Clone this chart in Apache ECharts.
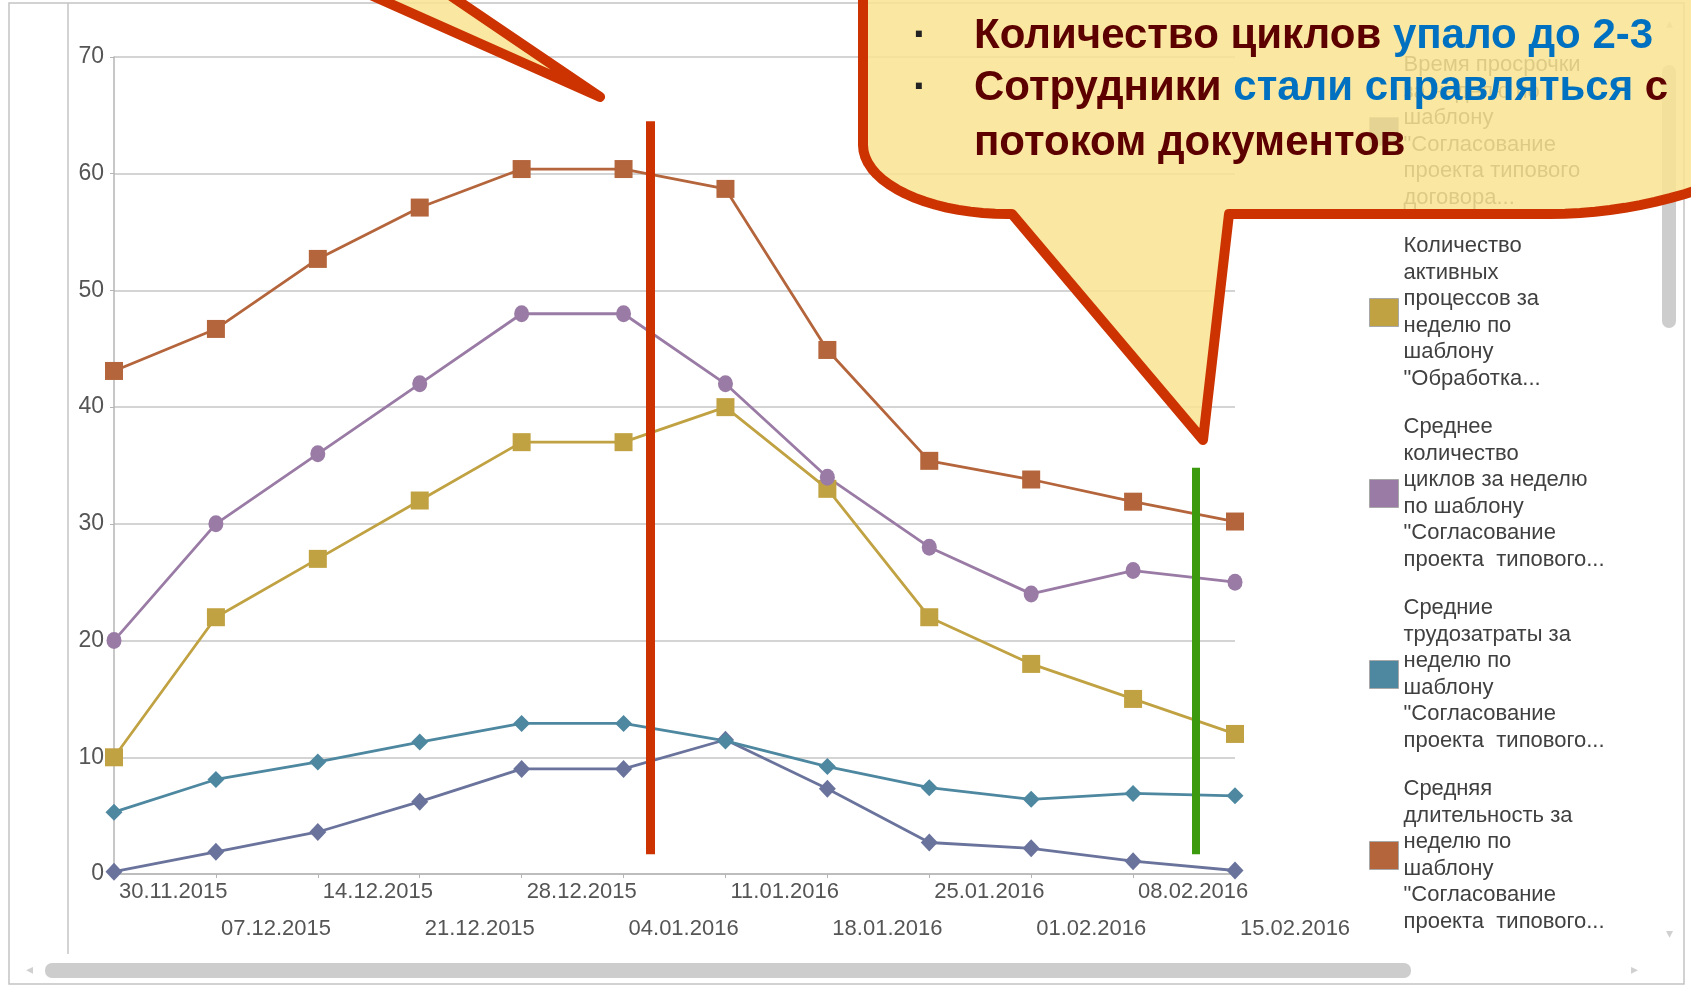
<!DOCTYPE html>
<html>
<head>
<meta charset="utf-8">
<script src="https://cdn.jsdelivr.net/npm/echarts@6/dist/echarts.min.js"></script>
<style>
  html, body { margin: 0; padding: 0; background: #fff; }
  #chart { width: 1691px; height: 987px; }
</style>
</head>
<body>
<div id="chart"></div>
<script>
// даты (недели)
const dates = ['30.11.2015', '07.12.2015', '14.12.2015', '21.12.2015', '28.12.2015', '04.01.2016',
    '11.01.2016', '18.01.2016', '25.01.2016', '01.02.2016', '08.02.2016', '15.02.2016'];

// значения серий
const overdue = [0.2, 1.9, 3.6, 6.2, 9.0, 9.0, 11.5, 7.3, 2.7, 2.2, 1.1, 0.3];
const activeCount = [10, 22, 27, 32, 37, 37, 40, 33, 22, 18, 15, 12];
const cycles = [20, 30, 36, 42, 48, 48, 42, 34, 28, 24, 26, 25];
const laborCost = [5.3, 8.1, 9.6, 11.3, 12.9, 12.9, 11.4, 9.2, 7.4, 6.4, 6.9, 6.7];
const duration = [43.1, 46.7, 52.7, 57.1, 60.4, 60.4, 58.7, 44.9, 35.4, 33.8, 31.9, 30.2];

// подписи легенды
const seriesNames = ['Время просрочки', 'Количество активных процессов', 'Среднее количество циклов',
    'Средние трудозатраты', 'Средняя длительность'];
const legendLabels = [
    'Время просрочки\nза неделю по\nшаблону\n"Согласование\nпроекта типового\nдоговора...',
    'Количество\nактивных\nпроцессов за\nнеделю по\nшаблону\n"Обработка...',
    'Среднее\nколичество\nциклов за неделю\nпо шаблону\n"Согласование\nпроекта  типового...',
    'Средние\nтрудозатраты за\nнеделю по\nшаблону\n"Согласование\nпроекта  типового...',
    'Средняя\nдлительность за\nнеделю по\nшаблону\n"Согласование\nпроекта  типового...'
];
const colors = ['#6a739c', '#c1a242', '#9a7ba5', '#4e88a0', '#b4653c'];

// отметки (вертикальные линии) на скрытой оси x
const redMark = { x: 5.26, from: 64.5, to: 1.7 };
const greenMark = { x: 10.61, from: 34.8, to: 1.7 };

const FONT = '"Liberation Sans", Arial, sans-serif';

// точки эллиптической дуги
function arc(cx, cy, rx, ry, a0, a1, n) {
    const pts = [];
    for (let i = 0; i <= n; i++) {
        const t = a0 + (a1 - a0) * i / n;
        pts.push([cx + rx * Math.cos(t), cy + ry * Math.sin(t)]);
    }
    return pts;
}

// правый нижний угол выноски — пологий изгиб
const rightCorner = [];
for (let x = 1550; x <= 1760; x += 15) {
    rightCorner.push([x, 214 - 0.0011 * (x - 1550) * (x - 1550)]);
}

const bubblePoints = [[863, -40], [863, 145]]
    .concat(arc(1008, 145, 145, 69, Math.PI, Math.PI / 2, 18))
    .concat([[1012, 214], [1203, 440], [1229, 214]])
    .concat(rightCorner)
    .concat([[1760, -40]]);

const fillYellow = 'rgba(249, 228, 146, 0.85)';
const borderRed = '#cc3300';

const chart = echarts.init(document.getElementById('chart'));

function lineSeries(name, data, color, symbol, size) {
    return {
        name: name,
        type: 'line',
        data: data,
        symbol: symbol,
        symbolSize: size,
        lineStyle: { color: color, width: 2.8 },
        itemStyle: { color: color },
        emphasis: { disabled: true }
    };
}

function textLine(text, y, rich) {
    return {
        type: 'text', z: 101, silent: true,
        style: {
            text: text, x: 974, y: y, verticalAlign: 'middle',
            fill: '#5c0000', font: 'bold 42px ' + FONT,
            rich: rich
        }
    };
}

const callRich = {
    r: { fill: '#5c0000', fontSize: 42, fontWeight: 'bold', fontFamily: FONT },
    b: { fill: '#0070c0', fontSize: 42, fontWeight: 'bold', fontFamily: FONT }
};

chart.setOption({
    animation: false,
    backgroundColor: '#fff',
    color: colors,
    textStyle: { fontFamily: FONT },
    grid: { left: 114, right: 456, top: 57, bottom: 113 },
    legend: {
        orient: 'vertical',
        left: 1369,
        top: 52,
        padding: 0,
        itemWidth: 29,
        itemHeight: 28,
        itemGap: 22,
        icon: 'rect',
        data: seriesNames,
        formatter: name => legendLabels[seriesNames.indexOf(name)],
        itemStyle: { borderColor: '#a8a8a8', borderWidth: 1 },
        textStyle: { fontSize: 22, lineHeight: 26.5, color: '#404040', fontFamily: FONT }
    },
    xAxis: [{
        type: 'category',
        data: dates,
        boundaryGap: false,
        axisLine: { lineStyle: { color: '#b5b5b5', width: 1.5 } },
        axisTick: { show: true, length: 4, lineStyle: { color: '#b5b5b5' } },
        axisLabel: {
            interval: 0,
            align: 'left',
            margin: -1,
            padding: [0, 0, 0, 5],
            fontSize: 22,
            lineHeight: 37,
            color: '#555',
            formatter: (v, i) => i % 2 ? '\n' + v : v
        }
    }, {
        type: 'value',
        min: 0,
        max: 11,
        show: false
    }],
    yAxis: {
        type: 'value',
        min: 0,
        max: 70,
        interval: 10,
        axisLine: { show: true, lineStyle: { color: '#b5b5b5', width: 1.5 } },
        axisTick: { show: true, length: 4, lineStyle: { color: '#b5b5b5' } },
        axisLabel: { fontSize: 23, color: '#555', margin: 10 },
        splitLine: { lineStyle: { color: '#c6c6c6', width: 1.5 } }
    },
    series: [
        lineSeries(seriesNames[0], overdue, colors[0], 'diamond', [17, 18]),
        lineSeries(seriesNames[1], activeCount, colors[1], 'rect', 18),
        lineSeries(seriesNames[2], cycles, colors[2], 'circle', [15, 17]),
        lineSeries(seriesNames[3], laborCost, colors[3], 'diamond', [17, 17]),
        lineSeries(seriesNames[4], duration, colors[4], 'rect', 18),
        {
            type: 'line',
            xAxisIndex: 1,
            data: [],
            z: 6,
            markLine: {
                silent: true,
                symbol: 'none',
                label: { show: false },
                data: [
                    [{ coord: [redMark.x, redMark.from], lineStyle: { color: '#cc3300', width: 9, type: 'solid' } },
                     { coord: [redMark.x, redMark.to] }],
                    [{ coord: [greenMark.x, greenMark.from], lineStyle: { color: '#3c9a0f', width: 8, type: 'solid' } },
                     { coord: [greenMark.x, greenMark.to] }]
                ]
            }
        }
    ],
    graphic: { elements: [
        // рамки окна
        { type: 'rect', z: 0, silent: true, shape: { x: 9, y: 3, width: 1675, height: 981 },
          style: { fill: null, stroke: '#c4c4c4', lineWidth: 1.5 } },
        { type: 'line', z: 0, silent: true, shape: { x1: 68, y1: 3, x2: 68, y2: 954 },
          style: { stroke: '#c4c4c4', lineWidth: 1.5 } },
        // горизонтальная прокрутка
        { type: 'rect', z: 1, silent: true, shape: { x: 45, y: 963, width: 1366, height: 15, r: 7 },
          style: { fill: '#cdcdcd' } },
        { type: 'text', z: 1, silent: true, style: { text: '◂', x: 29, y: 970, fill: '#d0d0d0', font: '14px ' + FONT, align: 'center', verticalAlign: 'middle' } },
        { type: 'text', z: 1, silent: true, style: { text: '▸', x: 1634, y: 970, fill: '#d0d0d0', font: '14px ' + FONT, align: 'center', verticalAlign: 'middle' } },
        // вертикальная прокрутка легенды
        { type: 'rect', z: 1, silent: true, shape: { x: 1662, y: 65, width: 14, height: 263, r: 7 },
          style: { fill: '#cdcdcd' } },
        { type: 'text', z: 1, silent: true, style: { text: '▴', x: 1669, y: 24, fill: '#d0d0d0', font: '14px ' + FONT, align: 'center', verticalAlign: 'middle' } },
        { type: 'text', z: 1, silent: true, style: { text: '▾', x: 1669, y: 934, fill: '#d0d0d0', font: '14px ' + FONT, align: 'center', verticalAlign: 'middle' } },
        // выноска слева (виден только хвост)
        { type: 'polygon', z: 100, silent: true,
          shape: { points: [[292, -40], [600, 97], [398, -40]] },
          style: { fill: fillYellow, stroke: borderRed, lineWidth: 10, lineJoin: 'round' } },
        // выноска справа
        { type: 'polygon', z: 100, silent: true,
          shape: { points: bubblePoints },
          style: { fill: fillYellow, stroke: borderRed, lineWidth: 10, lineJoin: 'round' } },
        { type: 'text', z: 101, silent: true,
          style: { text: '·', x: 920, y: 36, fill: '#222', font: 'bold 42px ' + FONT, align: 'center', verticalAlign: 'middle' } },
        { type: 'text', z: 101, silent: true,
          style: { text: '·', x: 920, y: 88, fill: '#222', font: 'bold 42px ' + FONT, align: 'center', verticalAlign: 'middle' } },
        textLine('{r|Количество циклов }{b|упало до 2-3}', 36, callRich),
        textLine('{r|Сотрудники }{b|стали справляться }{r|с}', 88, callRich),
        textLine('потоком документов', 143)
    ] }
});
</script>
</body>
</html>
